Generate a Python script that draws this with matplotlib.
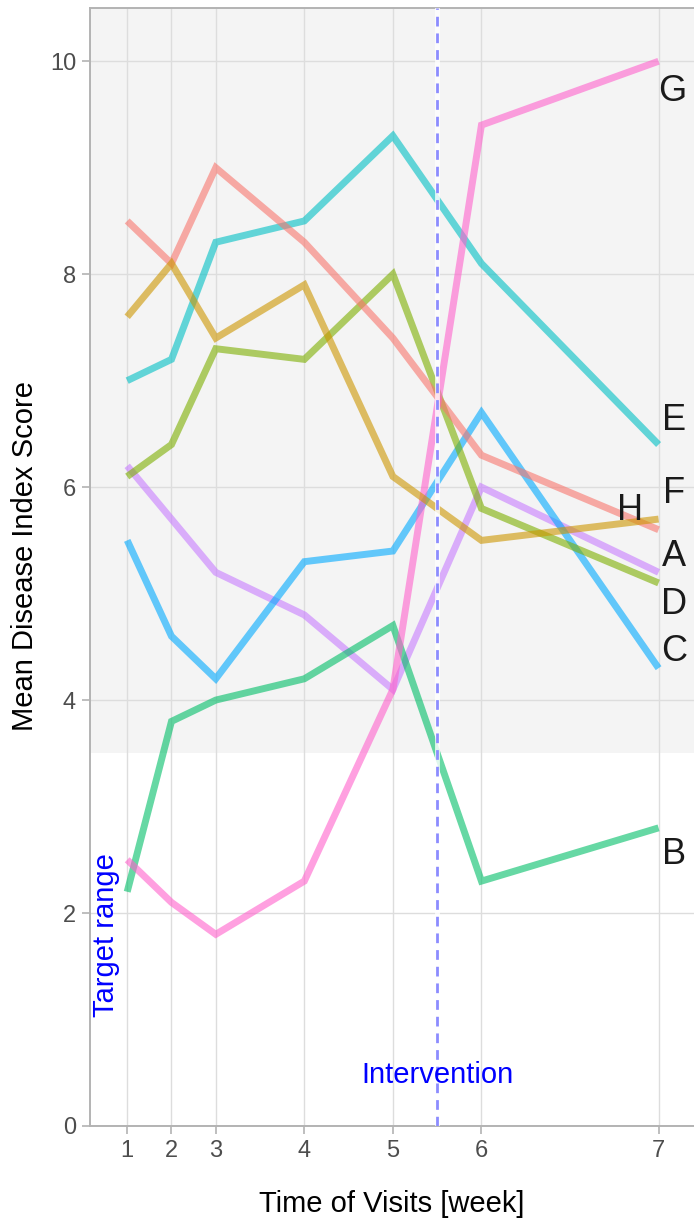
import matplotlib.pyplot as plt
import matplotlib.patches as mpatches

plt.rcParams['font.family'] = ['Liberation Sans', 'DejaVu Sans']

# visit number -> week offset used for positioning
weeks = [0, 1, 2, 4, 6, 8, 12]
visit_labels = ['1', '2', '3', '4', '5', '6', '7']

groups = ['A', 'B', 'C', 'D', 'E', 'F', 'G', 'H']
colors = ['#C77CFF', '#00BE67', '#00A9FF', '#7CAE00',
          '#00BFC4', '#F8766D', '#FF61CC', '#CD9600']

score_a = [6.2, 5.7, 5.2, 4.8, 4.1, 6.0, 5.2]
score_b = [2.2, 3.8, 4.0, 4.2, 4.7, 2.3, 2.8]
score_c = [5.5, 4.6, 4.2, 5.3, 5.4, 6.7, 4.3]
score_d = [6.1, 6.4, 7.3, 7.2, 8.0, 5.8, 5.1]
score_e = [7.0, 7.2, 8.3, 8.5, 9.3, 8.1, 6.4]
score_f = [8.5, 8.1, 9.0, 8.3, 7.4, 6.3, 5.6]
score_g = [2.5, 2.1, 1.8, 2.3, 4.1, 9.4, 10.0]
score_h = [7.6, 8.1, 7.4, 7.9, 6.1, 5.5, 5.7]
scores = [score_a, score_b, score_c, score_d, score_e, score_f, score_g, score_h]

# end label positions (x in weeks, y in score)
label_x = [12.35, 12.35, 12.35, 12.35, 12.35, 12.35, 12.3, 11.35]
label_y = [5.35, 2.55, 4.46, 4.9, 6.63, 5.94, 9.72, 5.78]

target_low = 3.5
intervention_week = 7

fig = plt.figure(figsize=(6.94, 12.23), dpi=100)
ax = fig.add_axes([90 / 694, 97 / 1223, 604 / 694, 1118 / 1223])
ax.set_xlim(-0.84, 12.8)
ax.set_ylim(0, 10.5)

ax.add_patch(mpatches.Rectangle((-0.84, target_low), 13.64, 10.5 - target_low,
                                facecolor='#f4f4f4', edgecolor='none', zorder=0))

ax.set_xticks(weeks)
ax.set_xticklabels(visit_labels)
ax.set_yticks([0, 2, 4, 6, 8, 10])
ax.grid(True, color='#dddddd', linewidth=1.0, zorder=1)
ax.set_axisbelow(True)

for spine in ['left', 'bottom', 'top']:
    ax.spines[spine].set_color('#b3b3b3')
    ax.spines[spine].set_linewidth(1.4)
ax.spines['right'].set_visible(False)
ax.tick_params(colors='#b3b3b3', labelcolor='#4d4d4d', labelsize=17,
               length=6, width=1.2, pad=4)

for g, c, s in zip(groups, colors, scores):
    ax.plot(weeks, s, color=c, alpha=0.6, linewidth=5, solid_capstyle='butt',
            solid_joinstyle='miter', zorder=3)

ax.axvline(intervention_week, color='white', linewidth=3.5, alpha=0.8, zorder=4)
ax.axvline(intervention_week, color='#8c8cff', linewidth=2, linestyle=(0, (3.5, 2.5)),
           zorder=5)

for g, lx, ly in zip(groups, label_x, label_y):
    ax.text(lx, ly, g, fontsize=26, color='#1a1a1a', ha='center', va='center', zorder=6)

ax.text(intervention_week, 0.48, 'Intervention', color='#0000ff', fontsize=21,
        ha='center', va='center', zorder=6)
ax.text(-0.47, 1.79, 'Target range', color='#0000ff', fontsize=21, rotation=90,
        ha='center', va='center', zorder=6)

ax.set_xlabel('Time of Visits [week]', fontsize=21, color='black', labelpad=20)
ax.set_ylabel('Mean Disease Index Score', fontsize=21, color='black', labelpad=8)
ax.yaxis.label.set_y(0.51)

fig.savefig('out.png', dpi=100)
